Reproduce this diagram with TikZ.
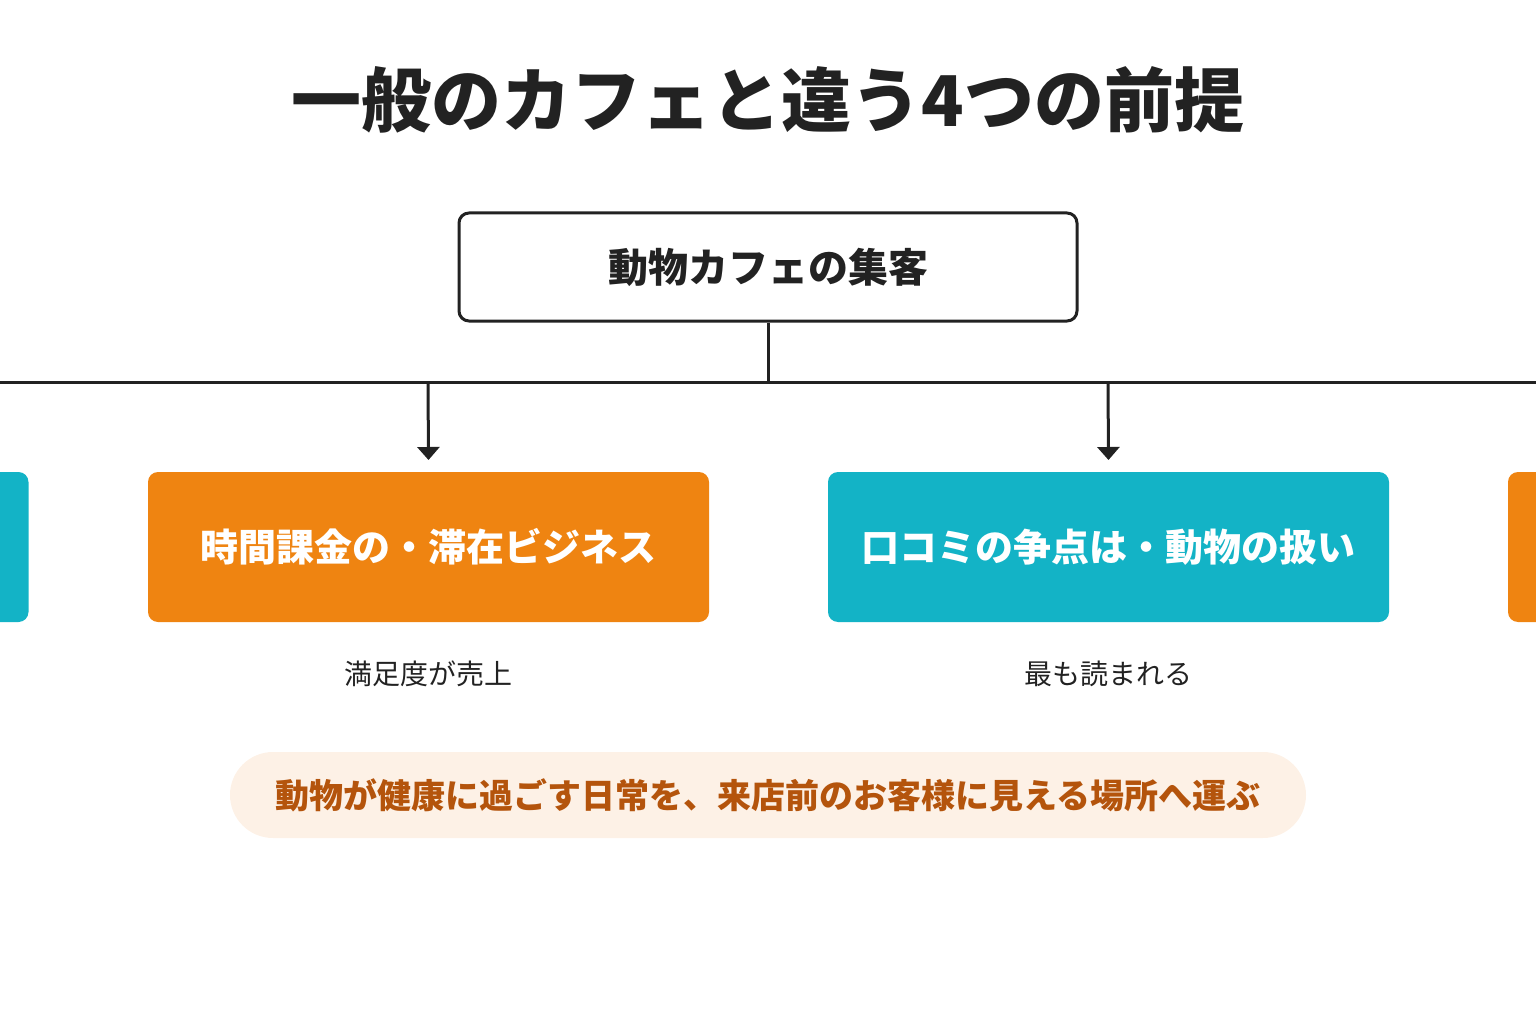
\documentclass[tikz,border=0pt]{standalone}
\usepackage{fontspec}
\newfontfamily\cjk{Noto Sans CJK JP}
\newfontfamily\cjkb{Noto Sans CJK JP}[FakeBold=0]
\usetikzlibrary{arrows.meta}
\definecolor{orng}{HTML}{EF8411}
\definecolor{teal}{HTML}{13B3C6}
\definecolor{ink}{HTML}{222222}
\definecolor{pillbg}{HTML}{FDF1E6}
\definecolor{pilltx}{HTML}{B4540C}
\begin{document}
\begin{tikzpicture}[x=1pt,y=-1pt,
  card/.style={rounded corners=10pt,minimum width=561pt,minimum height=150pt,inner sep=0pt},
  cardtext/.style={font=\cjk\bfseries\fontsize{38}{40}\selectfont,text=white},
  sub/.style={font=\cjk\fontsize{28}{30}\selectfont,text=ink},
  conn/.style={line width=3pt,draw=ink},
  arr/.style={conn,-{Triangle[width=22pt,length=13pt]}}]
\useasboundingbox (0,0) rectangle (1536,1024);
\node (title) at (768,100) {\cjk\bfseries\fontsize{70}{72}\selectfont\color{ink}一般のカフェと違う4つの前提};
\node (top) [draw=ink,line width=3pt,rounded corners=10pt,minimum width=618pt,minimum height=108pt,
  font=\cjk\bfseries\fontsize{40}{42}\selectfont,text=ink] at (768,267) {動物カフェの集客};
\coordinate (j) at (768,382);
\coordinate (hl) at (0,382);
\coordinate (hr) at (1536,382);
\coordinate (a1) at (428,382);
\coordinate (a2) at (1108,382);
\draw[conn] (top.south) -- (j);
\draw[conn] (hl) -- (hr);
\node (c1) [card,fill=orng] at (428.5,547) {};
\node (c2) [card,fill=teal] at (1108.5,547) {};
\node [cardtext] at (c1) {時間課金の・滞在ビジネス};
\node [cardtext] at (c2) {口コミの争点は・動物の扱い};
\draw[arr] (a1) -- (c1.north |- 0,460);
\draw[arr] (a2) -- (c2.north |- 0,460);
\node (pl) [card,fill=teal] at (-252,547) {};
\node (pr) [card,fill=orng] at (1788.5,547) {};
\node (s1) [sub] at (428,674) {満足度が売上};
\node (s2) [sub] at (1108,674) {最も読まれる};
\node (pill) [fill=pillbg,rounded corners=43pt,minimum width=1076pt,minimum height=86pt,
  font=\cjk\bfseries\fontsize{34}{36}\selectfont,text=pilltx] at (768,795) {動物が健康に過ごす日常を、来店前のお客様に見える場所へ運ぶ};
\end{tikzpicture}
\end{document}
